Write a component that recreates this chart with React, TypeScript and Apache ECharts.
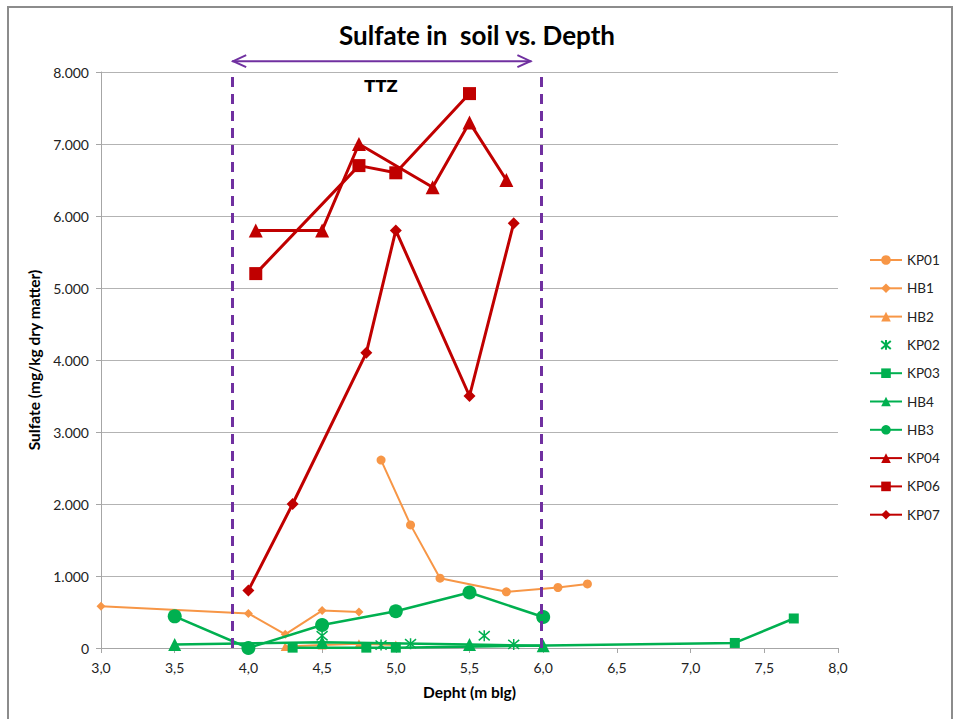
import React, { useEffect, useRef } from "react";
import * as echarts from "echarts";

const seriesNames = ["KP01", "HB1", "HB2", "KP02", "KP03", "HB4", "HB3", "KP04", "KP06", "KP07"];

const kp01 = [[4.9, 2610], [5.1, 1710], [5.3, 970], [5.75, 780], [6.1, 840], [6.3, 890]];
const hb1 = [[3.0, 580], [4.0, 480], [4.25, 190], [4.5, 520], [4.75, 500]];
const hb2 = [[4.25, 20], [4.5, 40], [4.75, 60], [5.0, 40]];
const kp02 = [[4.5, 170], [4.9, 40], [5.1, 60], [5.6, 170], [5.8, 50]];
const kp03 = [[4.3, 5], [4.8, 5], [5.0, 5], [7.3, 70], [7.7, 410]];
const hb4 = [[3.5, 50], [4.5, 80], [5.5, 50], [6.0, 30]];
const hb3 = [[3.5, 440], [4.0, 0], [4.5, 320], [5.0, 510], [5.5, 770], [6.0, 430]];
const kp04 = [[4.05, 5800], [4.5, 5800], [4.75, 7000], [5.25, 6400], [5.5, 7300], [5.75, 6500]];
const kp06 = [[4.05, 5200], [4.75, 6700], [5.0, 6600], [5.5, 7700]];
const kp07 = [[4.0, 800], [4.3, 2000], [4.8, 4100], [5.0, 5800], [5.5, 3500], [5.8, 5900]];

const ttzStart = 3.89;
const ttzEnd = 5.99;
const arrowStart = 3.89;
const arrowEnd = 5.92;
const arrowLevel = 8150;
const ttzLabelX = 4.9;
const ttzLabelY = 7800;

const ORANGE = "#F79646";
const GREEN = "#00B050";
const RED = "#C00000";
const PURPLE = "#7030A0";
const FONT = "Lato, 'Open Sans', sans-serif";

const asterisk = "path://M0,0 L10,10 M10,0 L0,10 M5,-1 L5,11";

function lineSeries(name: string, data: number[][], color: string, width: number, symbol: string, size: number, z: number) {
  return {
    name,
    type: "line",
    data,
    symbol,
    symbolSize: size,
    showSymbol: true,
    lineStyle: { color, width },
    itemStyle: { color, borderWidth: 0 },
    emphasis: { disabled: true },
    z,
  };
}

export default function App() {
  const ref = useRef<HTMLDivElement>(null);
  useEffect(() => {
    document.body.style.margin = "0";
    const chart = echarts.init(ref.current!, undefined, { renderer: "svg" });
    const option: any = {
      animation: false,
      backgroundColor: "#ffffff",
      title: {
        text: "Sulfate in  soil vs. Depth",
        left: "center",
        top: 17,
        textStyle: { fontFamily: FONT, fontWeight: "bold", fontSize: 26, color: "#000" },
      },
      grid: { left: 101, right: 116, top: 72, bottom: 71, containLabel: false },
      legend: {
        orient: "vertical",
        left: 864,
        top: 248,
        itemWidth: 32,
        itemHeight: 12,
        itemGap: 14.3,
        data: seriesNames,
        textStyle: { fontFamily: FONT, fontSize: 13.5, color: "#222" },
      },
      xAxis: {
        type: "value",
        min: 3,
        max: 8,
        interval: 0.5,
        name: "Depht (m blg)",
        nameLocation: "middle",
        nameGap: 36,
        nameTextStyle: { fontFamily: FONT, fontWeight: "bold", fontSize: 15.5, color: "#000" },
        axisLine: { show: true, lineStyle: { color: "#a6a6a6", width: 1 } },
        axisTick: { show: true, length: 5, lineStyle: { color: "#a6a6a6" } },
        axisLabel: {
          fontFamily: FONT,
          fontSize: 14,
          color: "#222",
          margin: 12,
          formatter: (v: number) => v.toFixed(1).replace(".", ","),
        },
        splitLine: { show: false },
      },
      yAxis: {
        type: "value",
        min: 0,
        max: 8000,
        interval: 1000,
        name: "Sulfate (mg/kg dry matter)",
        nameLocation: "middle",
        nameGap: 57,
        nameTextStyle: { fontFamily: FONT, fontWeight: "bold", fontSize: 15.5, color: "#000" },
        axisLine: { show: true, lineStyle: { color: "#a6a6a6", width: 1 } },
        axisTick: { show: true, length: 5, lineStyle: { color: "#a6a6a6" } },
        axisLabel: {
          fontFamily: FONT,
          fontSize: 14,
          color: "#222",
          margin: 12,
          formatter: (v: number) => (v === 0 ? "0" : (v / 1000).toFixed(0) + ".000"),
        },
        splitLine: { show: true, lineStyle: { color: "#b3b3b3", width: 1 } },
      },
      series: [
        {
          name: "TTZ bounds",
          type: "line",
          data: [],
          silent: true,
          markLine: {
            silent: true,
            symbol: "none",
            label: { show: false },
            lineStyle: { color: PURPLE, type: [10, 7], width: 3 },
            data: [{ xAxis: ttzStart }, { xAxis: ttzEnd }],
          },
          z: 1,
        },
        lineSeries("KP01", kp01, ORANGE, 2, "circle", 9, 2),
        lineSeries("HB1", hb1, ORANGE, 2, "diamond", 9, 2),
        lineSeries("HB2", hb2, ORANGE, 2, "triangle", 9, 2),
        {
          name: "KP02",
          type: "line",
          data: kp02,
          symbol: asterisk,
          symbolSize: 11,
          showSymbol: true,
          lineStyle: { width: 0, opacity: 0 },
          itemStyle: { color: "rgba(0,0,0,0)", borderColor: GREEN, borderWidth: 1.5 },
          emphasis: { disabled: true },
          z: 3,
        },
        lineSeries("KP03", kp03, GREEN, 2.5, "rect", 10, 3),
        lineSeries("HB4", hb4, GREEN, 2.5, "triangle", 13, 3),
        lineSeries("HB3", hb3, GREEN, 2.5, "circle", 14, 3),
        lineSeries("KP04", kp04, RED, 3, "triangle", 14, 4),
        lineSeries("KP06", kp06, RED, 3, "rect", 13, 4),
        lineSeries("KP07", kp07, RED, 3, "diamond", 12, 4),
      ],
    };
    chart.setOption(option);

    const a = chart.convertToPixel({ gridIndex: 0 }, [arrowStart, arrowLevel]) as number[];
    const b = chart.convertToPixel({ gridIndex: 0 }, [arrowEnd, arrowLevel]) as number[];
    const t = chart.convertToPixel({ gridIndex: 0 }, [ttzLabelX, ttzLabelY]) as number[];
    const h = 6;
    const w = 14;
    chart.setOption({
      graphic: [
        {
          type: "rect",
          shape: { x: 8, y: 7, width: 944, height: 730 },
          style: { fill: "none", stroke: "#8c8c8c", lineWidth: 2 },
          silent: true,
          z: 0,
        },
        {
          type: "line",
          shape: { x1: a[0], y1: a[1], x2: b[0], y2: b[1] },
          style: { stroke: PURPLE, lineWidth: 2 },
          silent: true,
        },
        {
          type: "polyline",
          shape: { points: [[a[0] + w, a[1] - h], [a[0] + 1, a[1]], [a[0] + w, a[1] + h]] },
          style: { stroke: PURPLE, lineWidth: 2, fill: "none" },
          silent: true,
        },
        {
          type: "polyline",
          shape: { points: [[b[0] - w, b[1] - h], [b[0] - 1, b[1]], [b[0] - w, b[1] + h]] },
          style: { stroke: PURPLE, lineWidth: 2, fill: "none" },
          silent: true,
        },
        {
          type: "text",
          x: t[0],
          y: t[1],
          style: {
            text: "TTZ",
            fontFamily: "'DejaVu Sans', sans-serif",
            fontWeight: "bold",
            fontSize: 16,
            fill: "#000",
            textAlign: "center",
            textVerticalAlign: "middle",
          },
          silent: true,
        },
      ],
    });
    return () => chart.dispose();
  }, []);
  return <div ref={ref} style={{ width: 954, height: 719 }} />;
}
